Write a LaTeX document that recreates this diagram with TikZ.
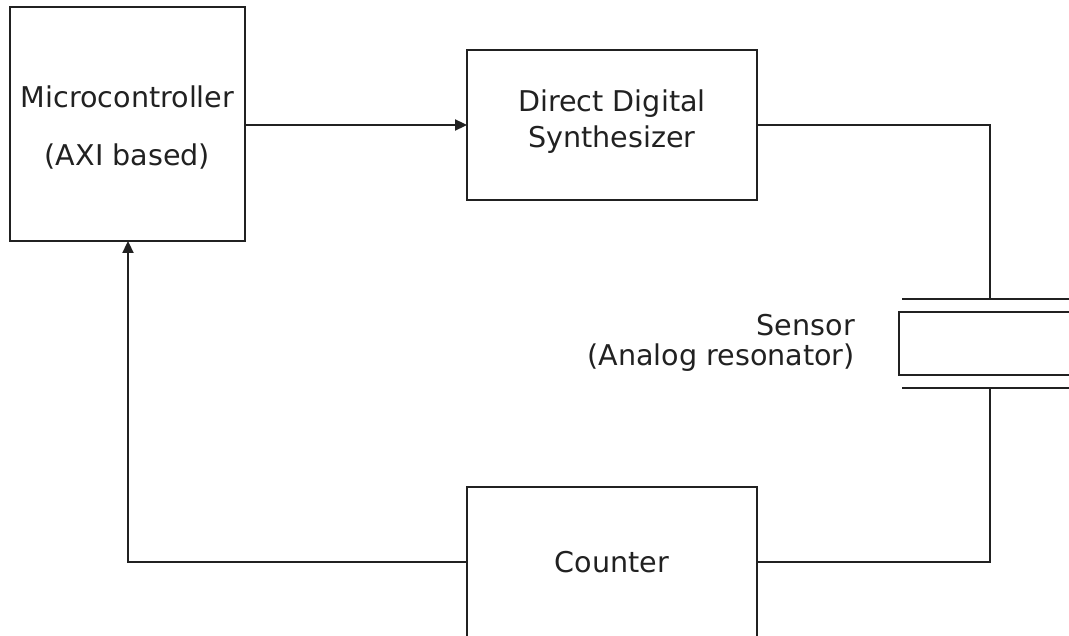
\documentclass[tikz,border=0pt]{standalone}
\usepackage{fontspec}
\setmainfont{DejaVu Sans}
\usetikzlibrary{arrows.meta}
\begin{document}
\begin{tikzpicture}[x=1pt,y=-1pt,
  ln/.style={draw=black!87, line width=2.3pt},
  arr/.style={ln, -{Triangle[length=12pt,width=11pt]}},
  lbl/.style={text=black!87, font=\fontsize{28.6}{34}\selectfont, inner sep=0pt}]
\useasboundingbox (0,0) rectangle (1069,636);
\clip (0,0) rectangle (1069,636);
% boxes
\draw[ln] (10,7) rectangle (245,241);
\coordinate (mcR) at (245,125);
\coordinate (mcB) at (128,241);
\node[lbl] (mc1) at (127.5,97) {Microcontroller};
\node[lbl] (mc2) at (127.5,157) {(AXI based)};
\draw[ln] (467,50) rectangle (757,200);
\coordinate (ddsL) at (467,125);
\coordinate (ddsR) at (757,125);
\node[lbl] (dds1) at (612,104) {Direct Digital};
\node[lbl] (dds2) at (612,140) {Synthesizer};
\draw[ln] (467,487) rectangle (757,660);
\coordinate (cL) at (467,562);
\coordinate (cR) at (757,562);
\node[lbl] (cnt) at (612,562) {Counter};
% sensor
\draw[ln] (902,299) -- (1080,299);
\draw[ln] (899,312) rectangle (1090,375);
\draw[ln] (902,388) -- (1080,388);
\coordinate (sT) at (990,299);
\coordinate (sB) at (990,388);
\node[lbl, anchor=east] (s1) at (855,325) {Sensor};
\node[lbl, anchor=east] (s2) at (855,358) {(Analog resonator)};
% connectors
\draw[arr] (mcR) -- (ddsL);
\draw[ln] (ddsR) -| (sT);
\draw[ln] (sB) |- (cR);
\draw[arr] (cL) -| (mcB);
\end{tikzpicture}
\end{document}
